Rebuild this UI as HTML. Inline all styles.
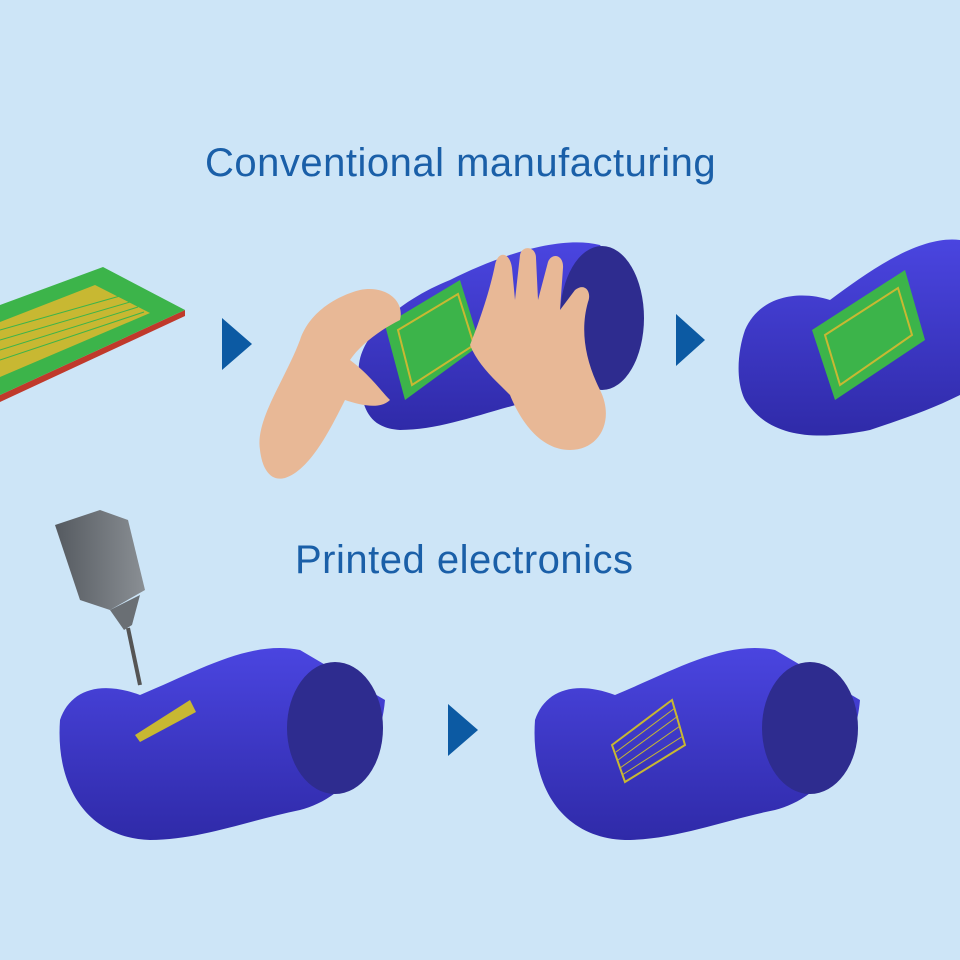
<!DOCTYPE html>
<html><head><meta charset="utf-8"><style>
html,body{margin:0;padding:0;background:#cde5f7;}
svg{display:block}
text{font-family:"Liberation Sans",sans-serif;fill:#1a5fa8;}
</style></head><body>
<svg width="960" height="960" viewBox="0 0 960 960" xmlns="http://www.w3.org/2000/svg">
<defs>
<linearGradient id="pipe" x1="0" y1="0" x2="0" y2="1">
<stop offset="0" stop-color="#4a45e0"/><stop offset="1" stop-color="#2f2aa8"/></linearGradient>
<linearGradient id="nz" x1="0" y1="0" x2="1" y2="0">
<stop offset="0" stop-color="#555a60"/><stop offset="1" stop-color="#8a8f94"/></linearGradient>
</defs>
<rect width="960" height="960" fill="#cde5f7"/>
<text x="205" y="176" font-size="40" letter-spacing="0.5">Conventional manufacturing</text>
<text x="295" y="573" font-size="40" letter-spacing="0.5">Printed electronics</text>

<!-- arrows -->
<polygon points="222,318 252,344 222,370" fill="#0c5aa3"/>
<polygon points="676,314 705,340 676,366" fill="#0c5aa3"/>
<polygon points="448,704 478,730 448,756" fill="#0c5aa3"/>

<!-- PCB -->
<polygon points="0,395 185,310 185,316 0,402" fill="#c0392b"/>
<polygon points="0,305 103,267 185,310 0,395" fill="#3cb44a"/>
<polygon points="0,322 95,285 150,313 0,377" fill="#c8b832"/>
<g stroke="#3cb44a" stroke-width="1">
<line x1="0" y1="330" x2="120" y2="296"/><line x1="0" y1="340" x2="130" y2="302"/>
<line x1="0" y1="350" x2="138" y2="307"/><line x1="0" y1="360" x2="144" y2="312"/>
</g>

<!-- top middle pipe -->
<path d="M360,380 C350,340 400,300 450,280 C500,255 560,235 600,245 L640,300 C630,360 600,390 560,395 C500,405 450,430 400,430 C370,428 362,410 360,380Z" fill="url(#pipe)"/>
<ellipse cx="602" cy="318" rx="42" ry="72" fill="#2e2c8f"/>
<path d="M385,325 L460,280 L480,345 L405,400Z" fill="#3cb44a"/>
<path d="M398,330 L458,294 L474,345 L412,385Z" fill="none" stroke="#c8b832" stroke-width="2"/>
<!-- hands -->
<path d="M260,450 C255,420 285,380 300,340 C310,310 340,295 360,290 C385,285 405,300 400,320 C380,330 360,345 350,360 C370,375 380,390 390,400 C380,410 360,405 345,400 C330,430 310,470 285,478 C270,482 262,468 260,450Z" fill="#e8b896"/>
<path d="M470,345 C480,320 490,290 495,265 C498,250 510,252 512,268 L515,300 L520,255 C522,245 536,246 536,258 L538,300 L548,262 C552,252 564,255 563,268 L560,310 L575,290 C585,282 592,292 588,302 C580,330 585,360 600,390 C615,420 600,450 570,450 C540,450 520,420 510,395 C495,380 478,365 470,345Z" fill="#e8b896"/>

<!-- top right pipe -->
<path d="M745,330 C760,295 800,290 830,300 C870,270 920,235 960,240 L960,395 C930,410 900,420 870,430 C820,440 770,440 745,400 C735,380 738,350 745,330Z" fill="url(#pipe)"/>
<path d="M812,330 L905,270 L925,340 L835,400Z" fill="#3cb44a"/>
<path d="M825,335 L898,288 L912,335 L840,385Z" fill="none" stroke="#c8b832" stroke-width="2"/>

<!-- bottom left pipe -->
<path d="M60,720 C70,690 100,680 140,695 C200,670 250,640 300,650 L385,700 C380,760 340,800 300,810 C250,820 200,840 150,840 C90,838 55,790 60,720Z" fill="url(#pipe)"/>
<ellipse cx="335" cy="728" rx="48" ry="66" fill="#2e2c8f"/>
<polygon points="135,735 190,700 196,712 140,742" fill="#c8b832"/>
<!-- nozzle -->
<polygon points="55,525 100,510 128,520 145,590 110,610 80,600" fill="url(#nz)"/>
<polygon points="110,610 140,595 132,625 124,630" fill="#6a6f74"/>
<line x1="128" y1="628" x2="140" y2="685" stroke="#555" stroke-width="4"/>

<!-- bottom right pipe -->
<path d="M535,720 C545,690 575,680 615,695 C675,670 725,640 775,650 L860,700 C855,760 815,800 775,810 C725,820 675,840 625,840 C565,838 530,790 535,720Z" fill="url(#pipe)"/>
<ellipse cx="810" cy="728" rx="48" ry="66" fill="#2e2c8f"/>
<path d="M612,745 L672,700 L685,745 L625,782Z" fill="none" stroke="#c8b832" stroke-width="2"/>
<g stroke="#c8b832" stroke-width="1">
<line x1="616" y1="752" x2="675" y2="708"/><line x1="618" y1="760" x2="678" y2="716"/>
<line x1="620" y1="768" x2="680" y2="726"/><line x1="622" y1="775" x2="683" y2="736"/>
</g>
</svg>
</body></html>
